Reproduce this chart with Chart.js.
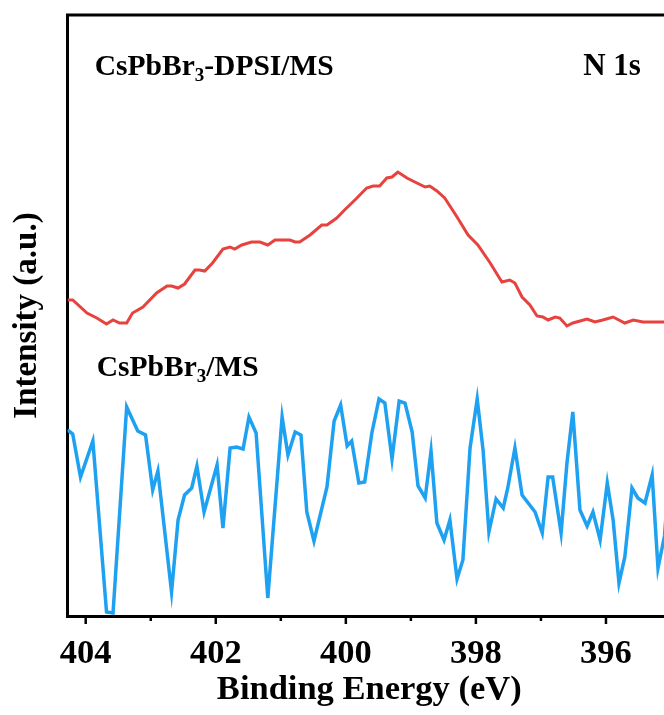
<!DOCTYPE html>
<html>
<head>
<meta charset="utf-8">
<script src="https://cdn.jsdelivr.net/npm/chart.js@4.4.1/dist/chart.umd.min.js"></script>
<style>
  html, body { margin: 0; padding: 0; background: #fff; overflow: hidden; }
  #wrap { width: 664px; height: 715px; overflow: hidden; }
</style>
</head>
<body>
<div id="wrap"><canvas id="c" width="680" height="715"></canvas></div>
<script>
// ---- data (binding energy in eV, intensity in arbitrary units) ----
const redEnergy = [404.28,404.20,403.98,403.83,403.68,403.58,403.48,403.37,403.28,403.12,402.91,402.75,402.68,402.58,402.48,402.32,402.25,402.17,402.05,401.89,401.78,401.71,401.60,401.45,401.32,401.20,401.09,400.86,400.78,400.71,400.55,400.37,400.29,400.14,400.02,399.94,399.83,399.68,399.58,399.48,399.37,399.29,399.20,399.06,398.97,398.78,398.71,398.60,398.48,398.29,398.12,397.97,397.78,397.60,397.48,397.40,397.29,397.17,397.06,396.97,396.89,396.78,396.71,396.60,396.51,396.29,396.17,396.05,395.89,395.71,395.58,395.43,395.10,395.00];
const redIntensity = [316,316,303,298,292,296,293,293,303,309,323,330,330,328,332,346,346,345,353,367,369,367,371,374,374,371,376,376,374,374,381,391,391,398,406,411,418,428,430,430,438,439,444,438,435,429,430,425,418,399,381,371,353,334,336,333,319,311,300,299,296,299,298,290,293,297,294,296,299,293,296,294,294,294];

const blueEnergy = [404.28,404.20,404.08,403.89,403.68,403.58,403.37,403.20,403.08,402.97,402.89,402.68,402.58,402.48,402.37,402.29,402.18,401.98,401.89,401.78,401.68,401.58,401.49,401.38,401.20,400.98,400.89,400.78,400.69,400.60,400.49,400.29,400.18,400.08,399.98,399.91,399.80,399.71,399.60,399.49,399.40,399.29,399.18,399.09,398.98,398.89,398.78,398.69,398.60,398.49,398.40,398.29,398.20,398.09,397.98,397.89,397.80,397.69,397.58,397.51,397.40,397.29,397.09,396.98,396.89,396.82,396.69,396.60,396.51,396.40,396.29,396.20,396.09,395.98,395.89,395.80,395.71,395.60,395.51,395.40,395.29,395.20,395.10,395.03];
const blueIntensity = [186,182,139,175,4,3,209,185,181,126,145,24,96,121,128,150,104,151,88,168,169,167,199,183,18,199,161,184,181,104,75,129,195,211,170,175,133,134,183,217,213,157,215,213,184,130,118,165,93,76,96,37,56,168,217,166,84,117,108,128,168,121,104,83,139,139,83,153,204,106,90,104,76,133,96,33,59,128,118,113,141,48,80,140];

const xTickValues = [404,403,402,401,400,399,398,397,396,395];
const xTickLabels = ['404','','402','','400','','398','','396',''];

const seriesNames = ['CsPbBr3-DPSI/MS', 'CsPbBr3/MS'];
const xTitle = 'Binding Energy (eV)';
const yTitle = 'Intensity (a.u.)';
const coreLevel = 'N 1s';

// ---- helpers ----
const FONT = '"Liberation Serif", "Times New Roman", serif';
const toXY = (xs, ys) => xs.map((x, i) => ({ x: x, y: ys[i] }));

function drawSubLabel(ctx, parts, x, y, size) {
  let cx = x;
  parts.forEach(p => {
    if (p.sub) {
      ctx.font = 'bold ' + Math.round(size * 0.65) + 'px ' + FONT;
      ctx.fillText(p.t, cx, y + size * 0.22);
    } else {
      ctx.font = 'bold ' + size + 'px ' + FONT;
      ctx.fillText(p.t, cx, y);
    }
    cx += ctx.measureText(p.t).width;
  });
}

const decorPlugin = {
  id: 'decor',
  afterDraw(chart) {
    const ctx = chart.ctx;
    const xs = chart.scales.x, ys = chart.scales.y;
    const ca = chart.chartArea;
    ctx.save();
    ctx.strokeStyle = '#000';
    ctx.lineWidth = 3;
    // top and right frame lines
    ctx.beginPath();
    ctx.moveTo(ca.left - 1.5, ca.top);
    ctx.lineTo(ca.right, ca.top);
    ctx.lineTo(ca.right, ca.bottom);
    ctx.stroke();
    // tick marks (major longer, minor shorter), outward
    ctx.lineWidth = 2.5;
    xTickValues.forEach((v, i) => {
      const px = xs.getPixelForValue(v);
      const len = xTickLabels[i] ? 8 : 5;
      ctx.beginPath();
      ctx.moveTo(px, ca.bottom);
      ctx.lineTo(px, ca.bottom + len);
      ctx.stroke();
    });
    // labels
    ctx.fillStyle = '#000';
    ctx.textBaseline = 'alphabetic';
    ctx.textAlign = 'left';
    drawSubLabel(ctx, [{t:'CsPbBr'},{t:'3',sub:true},{t:'-DPSI/MS'}],
      xs.getPixelForValue(403.86), ys.getPixelForValue(541), 29.5);
    drawSubLabel(ctx, [{t:'CsPbBr'},{t:'3',sub:true},{t:'/MS'}],
      xs.getPixelForValue(403.83), ys.getPixelForValue(240), 29.5);
    drawSubLabel(ctx, [{t:coreLevel}],
      xs.getPixelForValue(396.35), ys.getPixelForValue(541), 31);
    ctx.restore();
  }
};

new Chart(document.getElementById('c'), {
  type: 'line',
  data: {
    datasets: [
      { label: seriesNames[0], data: toXY(redEnergy, redIntensity),
        borderColor: '#E8423F', borderWidth: 3, pointRadius: 0, tension: 0, fill: false },
      { label: seriesNames[1], data: toXY(blueEnergy, blueIntensity),
        borderColor: '#1EA1F1', borderWidth: 3.5, pointRadius: 0, tension: 0, fill: false }
    ]
  },
  options: {
    responsive: false,
    animation: false,
    devicePixelRatio: 1,
    layout: { padding: { top: 15, left: 0, right: 9, bottom: 0 } },
    plugins: { legend: { display: false }, tooltip: { enabled: false }, title: { display: false } },
    scales: {
      x: {
        type: 'linear',
        reverse: true,
        min: 395.0,
        max: 404.28,
        afterBuildTicks: (scale) => { scale.ticks = xTickValues.map(v => ({ value: v })); },
        afterFit: (scale) => { scale.height = 99; },
        grid: { display: false },
        border: { display: true, color: '#000', width: 3 },
        ticks: {
          autoSkip: false, maxRotation: 0, padding: 9, color: '#000',
          font: { family: FONT, size: 34.5, weight: 'bold' },
          callback: (v) => { const i = xTickValues.indexOf(v); return i >= 0 ? xTickLabels[i] : ''; }
        },
        title: {
          display: true, text: xTitle, color: '#000',
          font: { family: FONT, size: 34.5, weight: 'bold' },
          padding: { top: 0, bottom: 4 }
        }
      },
      y: {
        type: 'linear',
        min: 0,
        max: 601,
        afterFit: (scale) => { scale.width = 67.5; },
        grid: { display: false },
        border: { display: true, color: '#000', width: 3 },
        ticks: { display: false },
        title: {
          display: true, text: yTitle, color: '#000',
          font: { family: FONT, size: 33, weight: 'bold' },
          padding: { top: 8, bottom: 0 }
        }
      }
    }
  },
  plugins: [decorPlugin]
});
</script>
</body>
</html>
